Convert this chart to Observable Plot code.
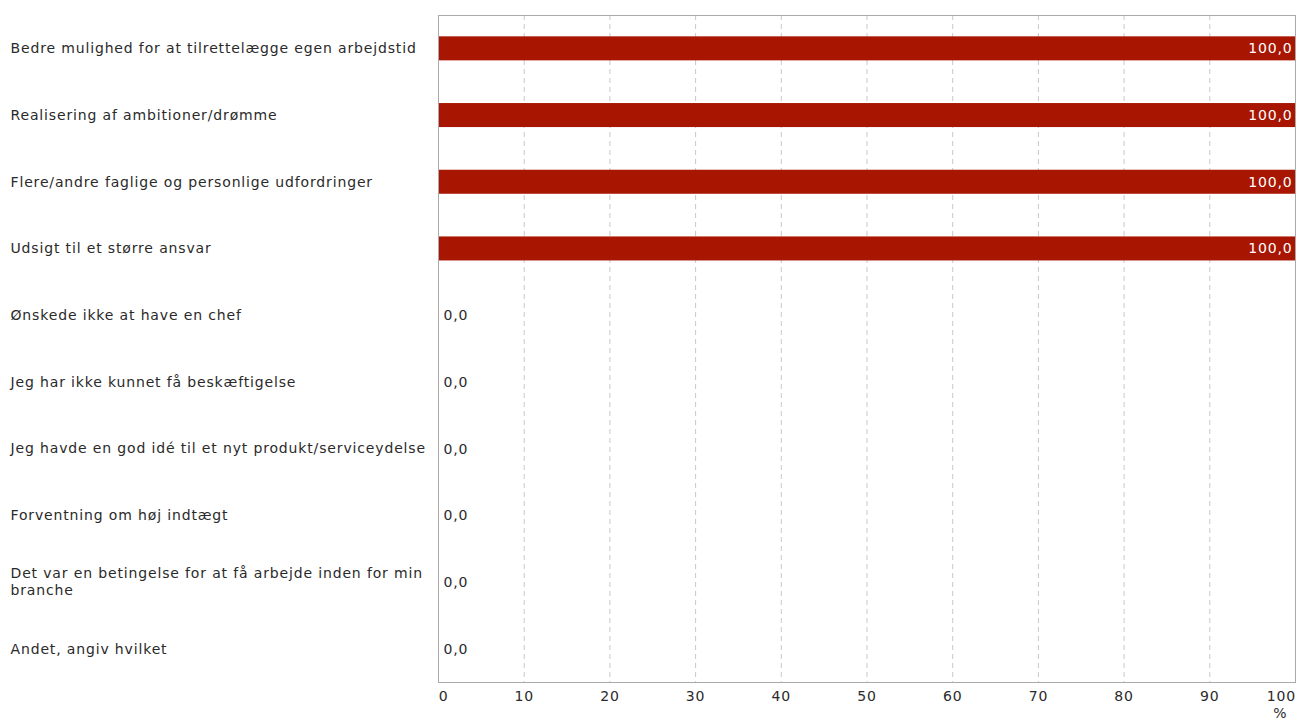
<!DOCTYPE html>
<html><head><meta charset="utf-8">
<script src="https://cdn.jsdelivr.net/npm/d3@7"></script>
<script src="https://cdn.jsdelivr.net/npm/@observablehq/plot@0.6"></script>
<style>body{margin:0;background:#fff;font-family:"DejaVu Sans",Verdana,sans-serif;}</style>
</head><body><div id="chart"></div>
<script>
const categories = [
  "Bedre mulighed for at tilrettelægge egen arbejdstid",
  "Realisering af ambitioner/drømme",
  "Flere/andre faglige og personlige udfordringer",
  "Udsigt til et større ansvar",
  "Ønskede ikke at have en chef",
  "Jeg har ikke kunnet få beskæftigelse",
  "Jeg havde en god idé til et nyt produkt/serviceydelse",
  "Forventning om høj indtægt",
  "Det var en betingelse for at få arbejde inden for min branche",
  "Andet, angiv hvilket"
];
const values = [100, 100, 100, 100, 0, 0, 0, 0, 0, 0];
const xTicks = [0, 10, 20, 30, 40, 50, 60, 70, 80, 90, 100];
const xUnit = "%";

const data = categories.map((c, i) => ({category: c, value: values[i]}));
const wrap = s => s === "Det var en betingelse for at få arbejde inden for min branche"
  ? "Det var en betingelse for at få arbejde inden for min\nbranche" : s;
const fmt = v => v.toFixed(1).replace(".", ",");
const barColor = "#a81500";
const textColor = "#2a2a2a";

const chart = Plot.plot({
  width: 1299, height: 720,
  marginLeft: 438, marginRight: 4, marginTop: 15, marginBottom: 38,
  style: {fontFamily: "'DejaVu Sans', Verdana, sans-serif", fontSize: "14px", letterSpacing: "0.85px", color: textColor, background: "#fff"},
  x: {domain: [0, 100], ticks: xTicks},
  y: {domain: categories, paddingInner: 0.64, paddingOuter: 0.32, round: false, label: null},
  marks: [
    Plot.gridX(xTicks.filter(t => t > 0 && t < 100), {stroke: "#c8c8c8", strokeOpacity: 1, strokeDasharray: "5,4"}),
    Plot.barX(data, {x: "value", y: "category", fill: barColor}),
    Plot.frame({stroke: "#aaa"}),
    Plot.axisY({tickSize: 0, tickPadding: 0, textAnchor: "start", dx: -428, dy: -1, tickFormat: wrap, lineHeight: 1.2, fill: textColor, label: null}),
    Plot.axisX(xTicks.filter(t => t > 0 && t < 100), {tickSize: 0, tickPadding: 9, fill: textColor, label: null}),
    Plot.axisX([0], {tickSize: 0, tickPadding: 9, dx: 5, fill: textColor, label: null}),
    Plot.axisX([100], {tickSize: 0, tickPadding: 9, dx: -14, fill: textColor, label: null}),
    Plot.text([xUnit], {text: d => d, frameAnchor: "bottom-right", dx: -8, dy: 35, fill: textColor}),
    Plot.text(data.filter(d => d.value > 0), {x: "value", y: "category", text: d => fmt(d.value), textAnchor: "end", dx: -3, fill: "#fff"}),
    Plot.text(data.filter(d => d.value === 0), {x: "value", y: "category", text: d => fmt(d.value), textAnchor: "start", dx: 5, fill: textColor})
  ]
});
document.getElementById("chart").append(chart);
</script></body></html>
